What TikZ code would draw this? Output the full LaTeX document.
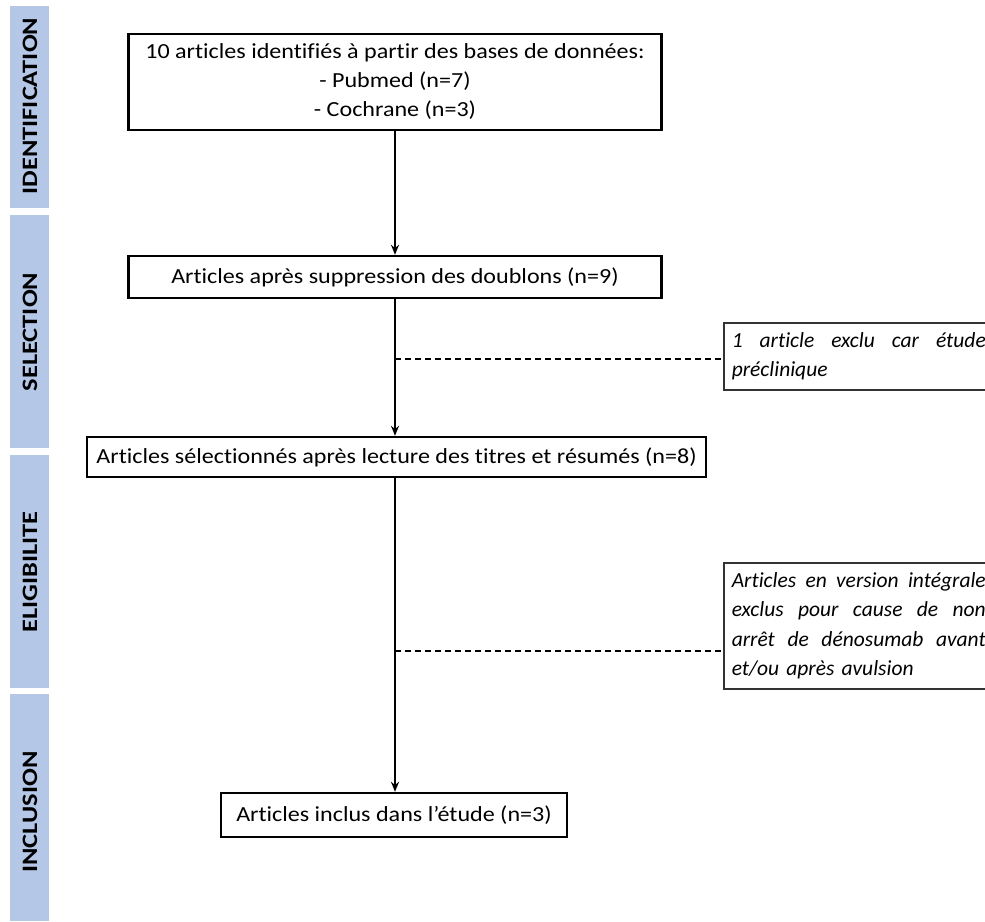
\documentclass[tikz,border=0pt]{standalone}
\usepackage{fontspec}
\setmainfont{Carlito}[FakeStretch=1.12, Ligatures=NoCommon]
\newfontfamily\labelfont{Carlito}[FakeStretch=1.2, Ligatures=NoCommon]
\newfontfamily\exclfont{Carlito}[Ligatures=NoCommon]
\usetikzlibrary{arrows.meta}
\definecolor{bandblue}{HTML}{B4C7E7}
\newcommand{\jline}[1]{\makebox[254pt][l]{#1}}
\begin{document}
\begin{tikzpicture}[x=1pt,y=-1pt,
  band/.style={fill=bandblue, draw=none},
  bandlabel/.style={rotate=90, font=\labelfont\fontsize{22}{26}\selectfont\bfseries},
  mainbox/.style={draw, line width=2.4pt, inner sep=0pt, align=center,
    font=\fontsize{21.5}{29}\selectfont},
  exclbox/.style={draw=black!80, line width=1.5pt, inner xsep=8pt, inner ysep=0pt,
    align=left, text width=254pt, anchor=north west,
    font=\exclfont\fontsize{21.5}{29.3}\selectfont\itshape},
  flow/.style={line width=2pt, -{Stealth[length=10pt,width=8pt]}},
  dashline/.style={line width=1.3pt, dash pattern=on 6pt off 4pt}
]
\useasboundingbox (0,0) rectangle (985,921);
% bands
\fill[band] (10,6) rectangle (49,208);
\fill[band] (10,215) rectangle (49,448);
\fill[band] (10,455) rectangle (49,688);
\fill[band] (10,694) rectangle (49,921);
\node[bandlabel] (l1) at (30,106) {IDENTIFICATION};
\node[bandlabel] (l2) at (30,332) {SELECTION};
\node[bandlabel] (l3) at (30,572) {ELIGIBILITE};
\node[bandlabel] (l4) at (30,812) {INCLUSION};
% main boxes
\node[mainbox, minimum width=533pt, minimum height=96pt] (b1) at (395,82)
  {10 articles identifiés à partir des bases de données:\\- Pubmed (n=7)\\- Cochrane (n=3)};
\node[mainbox, minimum width=533pt, minimum height=42pt] (b2) at (395,277)
  {Articles après suppression des doublons (n=9)};
\node[mainbox, minimum width=619pt, minimum height=40pt] (b3) at (396.5,457)
  {Articles sélectionnés après lecture des titres et résumés (n=8)};
\node[mainbox, minimum width=346pt, minimum height=44pt] (b4) at (394,815)
  {Articles inclus dans l’étude (n=3)};
% exclusion boxes
\node[exclbox, minimum height=67pt] (e1) at (723,322)
  {\strut\jline{1\hfill article\hfill exclu\hfill car\hfill étude}\\préclinique\strut};
\node[exclbox, minimum height=126pt] (e2) at (723,562)
  {\strut\jline{Articles\hfill en\hfill version\hfill intégrale}\\
   \jline{exclus\hfill pour\hfill cause\hfill de\hfill non}\\
   \jline{arrêt\hfill de\hfill dénosumab\hfill avant}\\
   et/ou après avulsion\strut};
% connectors
\coordinate (ax) at (395,0);
\draw[flow] (b1.south -| ax) -- (b2.north -| ax);
\draw[flow] (b2.south -| ax) -- (b3.north -| ax);
\draw[flow] (b3.south -| ax) -- (b4.north -| ax);
\coordinate (d1) at (395,359);
\coordinate (d2) at (395,651);
\draw[dashline] (d1) -- (d1 -| e1.west);
\draw[dashline] (d2) -- (d2 -| e2.west);
\end{tikzpicture}
\end{document}
